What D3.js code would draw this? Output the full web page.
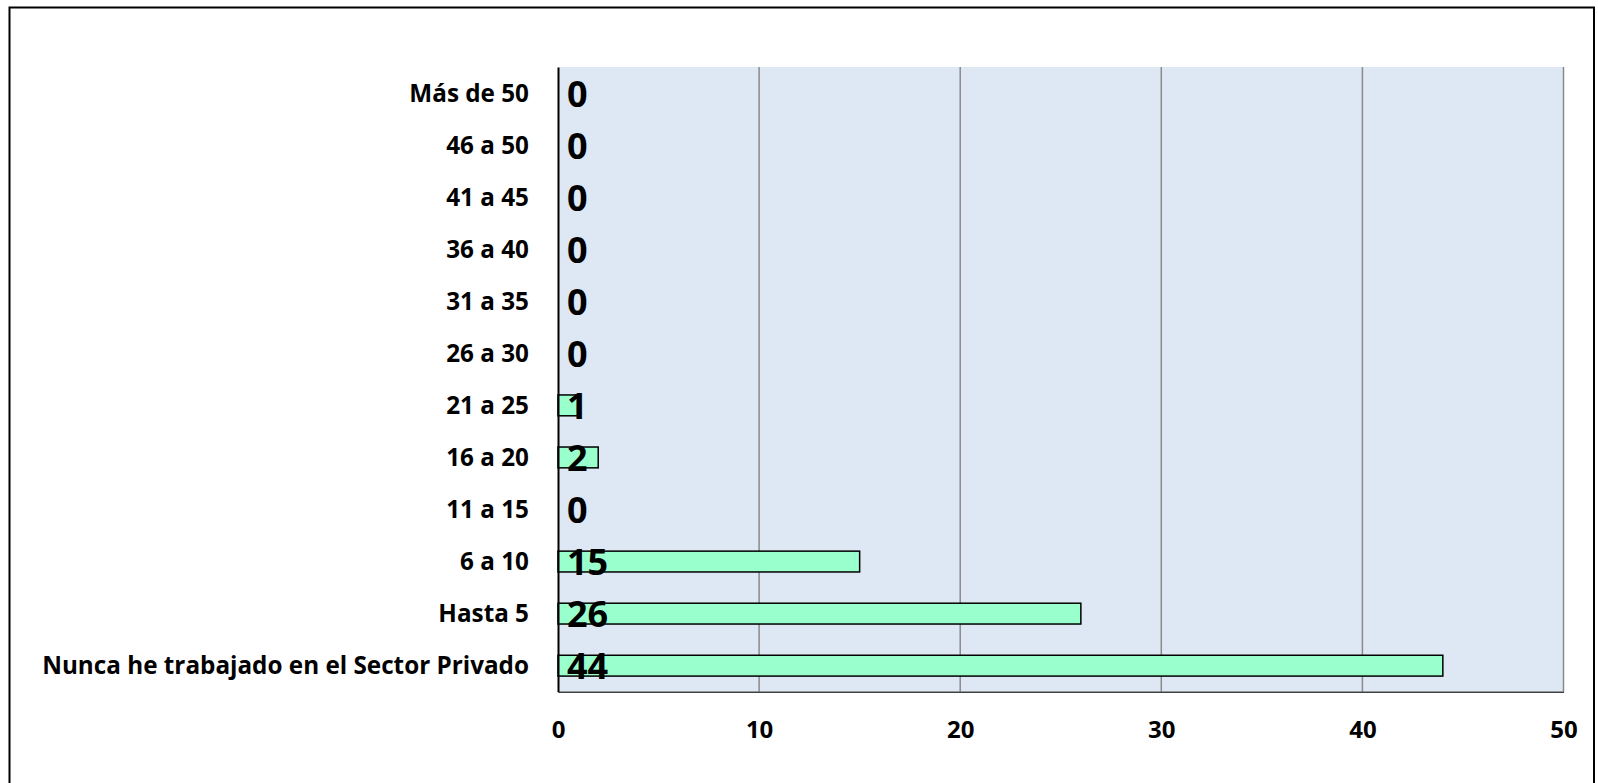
<!DOCTYPE html>
<html>
<head>
<meta charset="utf-8">
<script src="https://cdn.jsdelivr.net/npm/d3@7/dist/d3.min.js"></script>
<style>
  html, body { margin: 0; padding: 0; background: #ffffff; }
  svg { display: block; }
  text { font-family: "Open Sans", Lato, sans-serif; font-weight: bold; fill: #000; }
</style>
</head>
<body>
<svg id="chart" width="1598" height="783"></svg>
<script>
// Years worked in the private sector (top to bottom as drawn)
const categories = [
  "Más de 50", "46 a 50", "41 a 45", "36 a 40", "31 a 35", "26 a 30",
  "21 a 25", "16 a 20", "11 a 15", "6 a 10", "Hasta 5",
  "Nunca he trabajado en el Sector Privado"
];
const values = [0, 0, 0, 0, 0, 0, 1, 2, 0, 15, 26, 44];
const xTicks = [0, 10, 20, 30, 40, 50];

const svg = d3.select("#chart");
const plot = { left: 558, right: 1563.5, top: 67, bottom: 691.7 };
const FONT = "'Open Sans', Lato, sans-serif";

// Outer chart frame (bottom edge runs past the canvas)
svg.append("rect")
  .attr("x", 9.5).attr("y", 7.5)
  .attr("width", 1594 - 9.5).attr("height", 800)
  .attr("fill", "none").attr("stroke", "#000").attr("stroke-width", 2);

const x = d3.scaleLinear().domain([0, 50]).range([plot.left, plot.right]);
const y = d3.scaleBand().domain(categories).range([plot.top, plot.bottom]).paddingInner(0.6).paddingOuter(0.3);

// Plot background
svg.append("rect")
  .attr("x", plot.left).attr("y", plot.top)
  .attr("width", plot.right - plot.left).attr("height", plot.bottom - plot.top)
  .attr("fill", "#dde8f4");

// Vertical gridlines
svg.append("g").selectAll("line")
  .data(xTicks.filter(d => d > 0))
  .join("line")
  .attr("x1", d => x(d)).attr("x2", d => x(d))
  .attr("y1", plot.top).attr("y2", plot.bottom)
  .attr("stroke", "#8a8a8a").attr("stroke-width", 1.5);

// Bars
svg.append("g").selectAll("rect")
  .data(categories.map((c, i) => ({ c, v: values[i] })).filter(d => d.v > 0))
  .join("rect")
  .attr("x", x(0))
  .attr("y", d => y(d.c))
  .attr("width", d => x(d.v) - x(0))
  .attr("height", y.bandwidth())
  .attr("fill", "#99ffcc")
  .attr("stroke", "#000").attr("stroke-width", 1.5);

// Bottom axis line and tick labels
const xAxis = svg.append("g")
  .attr("transform", `translate(0,${plot.bottom})`)
  .call(d3.axisBottom(x).tickValues(xTicks).tickSize(0).tickPadding(0).tickFormat(d3.format("d")));
xAxis.select(".domain").attr("stroke", "#404040").attr("stroke-width", 1.5);
xAxis.selectAll(".tick text")
  .attr("y", 38).attr("dy", "0.36em")
  .style("font-size", "24px").style("font-family", FONT).style("font-weight", "bold");

// Left axis with category labels
const yAxis = svg.append("g")
  .attr("transform", `translate(${plot.left},0)`)
  .call(d3.axisLeft(y).tickSize(0).tickPadding(29));
yAxis.select(".domain").attr("stroke", "#000").attr("stroke-width", 2);
const catText = yAxis.selectAll(".tick text")
  .attr("dy", "0.36em")
  .style("font-size", "24px").style("font-family", FONT).style("font-weight", "bold");

// Size the category labels so the longest one spans the left margin
const longest = d3.max(catText.nodes(), n => n.getComputedTextLength());
const catSize = 24 * 487 / longest;
catText.style("font-size", catSize + "px");

// Value labels
svg.append("g").selectAll("text")
  .data(categories.map((c, i) => ({ c, v: values[i] })))
  .join("text")
  .attr("x", x(0) + 9)
  .attr("y", d => y(d.c) + y.bandwidth() / 2)
  .attr("dy", "0.38em")
  .style("font-size", "36px")
  .text(d => d.v);
</script>
</body>
</html>
